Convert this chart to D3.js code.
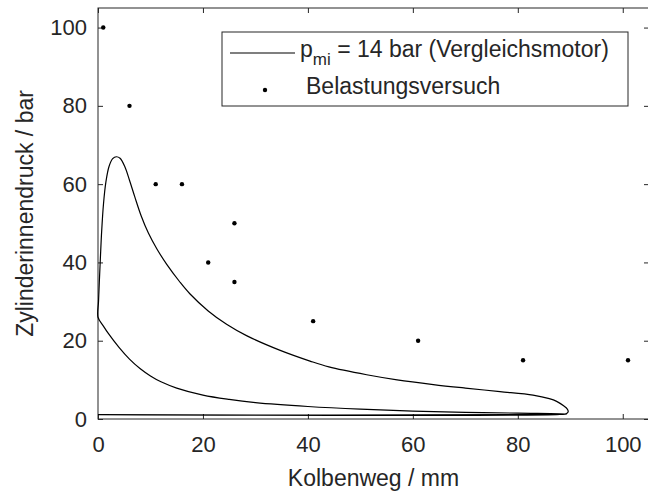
<!DOCTYPE html>
<html>
<head>
<meta charset="utf-8">
<script src="https://d3js.org/d3.v7.min.js"></script>
<style>
  body { margin: 0; background: #fff; }
  text { font-family: "Liberation Sans", Arial, Helvetica, sans-serif; fill: #262626; }
  .axis path, .axis line { stroke: #262626; }
</style>
</head>
<body>
<script>
// pressure trace of the comparison engine (Kolbenweg mm, Druck bar), one closed loop
var loopX = [0, 88, 89.3, 80, 70, 60, 50, 40, 30, 25, 20, 15, 12, 10, 8, 6, 4, 2, 1, 0,
             0.1, 0.25, 0.45, 0.7, 1.05, 1.5, 2.1, 2.8, 3.5, 4.2, 5.1, 6, 7, 8.2, 9.6, 11.2, 13.1, 15.6, 17.5,
             21, 24.5, 28.3, 34.6, 40.4, 44, 51.2, 57, 63.9, 70, 76.6, 82.9, 86, 87.4, 88.8, 89.4, 89.6, 89.3, 88, 0];
var loopP = [1.1, 1.15, 1.3, 1.5, 1.7, 2.0, 2.5, 3.2, 4.2, 5.0, 6.1, 7.9, 9.5, 11.0, 12.9, 15.3, 18.3, 21.8, 23.8, 26,
             30, 35, 41, 48, 55, 60.5, 64.5, 66.5, 67, 66.6, 64.5, 61.0, 56.8, 52.0, 47.5, 43.5, 39.5, 35.0, 32.0,
             27.6, 24.2, 21.3, 17.6, 14.8, 13.3, 11.3, 10.0, 8.8, 7.9, 7.0, 6.1, 5.2, 4.5, 3.3, 2.6, 1.9, 1.4, 1.2, 1.1];

// Belastungsversuch points
var dotX = [1, 6, 11, 16, 21, 26, 26, 41, 61, 81, 101];
var dotP = [100, 80, 60, 60, 40, 50, 35, 25, 20, 15, 15];

var xTicks = [0, 20, 40, 60, 80, 100];
var yTicks = [0, 20, 40, 60, 80, 100];

var width = 648, height = 497;
var mLeft = 98, mRight = 649, mTop = 8, mBottom = 419;

var svg = d3.select("body").append("svg")
  .attr("width", width)
  .attr("height", height);

var x = d3.scaleLinear().domain([0, 105]).range([mLeft, mRight]);
var y = d3.scaleLinear().domain([0, 105]).range([mBottom, mTop]);

// axes, ticks pointing inward like matlab
svg.append("g").attr("class", "axis")
  .attr("transform", "translate(0," + mBottom + ")")
  .call(d3.axisBottom(x).tickValues(xTicks).tickSizeInner(-5).tickSizeOuter(0).tickPadding(17))
  .call(g => g.select(".domain").remove())
  .selectAll("text").style("font-size", "22px");

svg.append("g").attr("class", "axis")
  .attr("transform", "translate(" + mLeft + ",0)")
  .call(d3.axisLeft(y).tickValues(yTicks).tickSizeInner(-5).tickSizeOuter(0).tickPadding(11))
  .call(g => g.select(".domain").remove())
  .selectAll("text").style("font-size", "22px");

svg.append("g").attr("class", "axis")
  .attr("transform", "translate(0," + mTop + ")")
  .call(d3.axisTop(x).tickValues(xTicks).tickSizeInner(-5).tickSizeOuter(0).tickFormat(""))
  .call(g => g.select(".domain").remove());

svg.append("g").attr("class", "axis")
  .attr("transform", "translate(" + mRight + ",0)")
  .call(d3.axisRight(y).tickValues(yTicks).tickSizeInner(-5).tickSizeOuter(0).tickFormat(""))
  .call(g => g.select(".domain").remove());

svg.append("rect")
  .attr("x", mLeft).attr("y", mTop)
  .attr("width", mRight - mLeft).attr("height", mBottom - mTop)
  .attr("fill", "none").attr("stroke", "#262626").attr("stroke-width", 1);

// the loop
var loop = d3.range(loopX.length).map(i => [loopX[i], loopP[i]]);
var line = d3.line()
  .x(d => x(d[0]))
  .y(d => y(d[1]))
  .curve(d3.curveCatmullRom.alpha(0.5));

svg.append("path")
  .datum(loop)
  .attr("d", line)
  .attr("fill", "none")
  .attr("stroke", "#000")
  .attr("stroke-width", 1.2);

svg.append("g").selectAll("circle")
  .data(dotX)
  .enter()
  .append("circle")
  .attr("cx", d => x(d))
  .attr("cy", (d, i) => y(dotP[i]))
  .attr("r", 2.2)
  .attr("fill", "#000");

// labels
svg.append("text")
  .attr("x", (mLeft + mRight) / 2)
  .attr("y", 486)
  .attr("text-anchor", "middle")
  .style("font-size", "23px")
  .text("Kolbenweg / mm");

svg.append("text")
  .attr("transform", "translate(33," + (mTop + mBottom) / 2 + ") rotate(-90)")
  .attr("text-anchor", "middle")
  .style("font-size", "23px")
  .text("Zylinderinnendruck / bar");

// legend
var legend = svg.append("g");
legend.append("rect")
  .attr("x", 222).attr("y", 32)
  .attr("width", 406).attr("height", 74)
  .attr("fill", "#fff").attr("stroke", "#262626").attr("stroke-width", 1);

legend.append("line")
  .attr("x1", 230).attr("x2", 295)
  .attr("y1", 53).attr("y2", 53)
  .attr("stroke", "#000").attr("stroke-width", 1.2);

var t1 = legend.append("text")
  .attr("x", 300).attr("y", 57)
  .style("font-size", "23px");
t1.append("tspan").text("p");
t1.append("tspan").attr("dy", 8).style("font-size", "17px").text("mi");
t1.append("tspan").attr("dy", -8).text(" = 14 bar (Vergleichsmotor)");

legend.append("circle")
  .attr("cx", 265).attr("cy", 90)
  .attr("r", 2.2).attr("fill", "#000");

legend.append("text")
  .attr("x", 306).attr("y", 94)
  .style("font-size", "23px")
  .text("Belastungsversuch");
</script>
</body>
</html>
